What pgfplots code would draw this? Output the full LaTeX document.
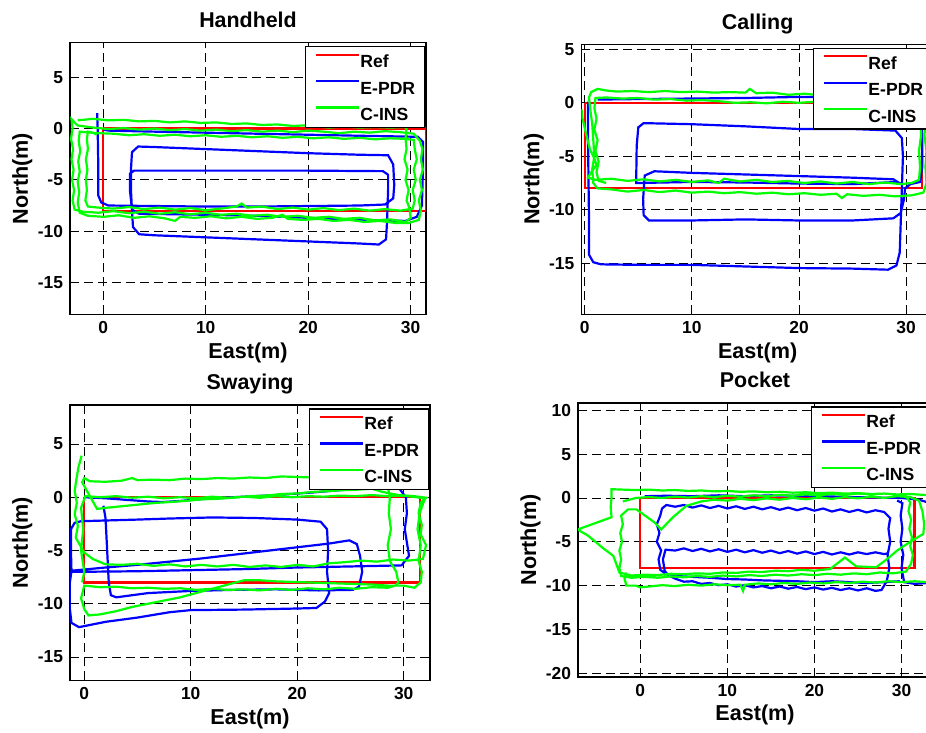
\documentclass[border=0pt]{standalone}
\usepackage{pgfplots}
\pgfplotsset{compat=1.18}
\usepackage{fontspec}
\setmainfont{Liberation Sans}
\definecolor{mred}{RGB}{255,0,0}
\definecolor{mblue}{RGB}{0,0,255}
\definecolor{mgreen}{RGB}{0,255,0}
\pgfplotsset{
  myax/.style={
    scale only axis,
    anchor=south west,
    axis line style={line width=0.65pt},
    grid=major,
    major grid style={black, dash pattern=on 4.5pt off 2.5pt, line width=0.4pt},
    xtick={0,10,20,30},
    tick style={black, line width=0.45pt},
    major tick length=2.2pt,
    ticklabel style={font=\fontsize{8.7}{10}\selectfont\bfseries},
    /pgf/number format/assume math mode=true,
    every axis title/.style={at={(0.5,1)}, anchor=base, yshift=7.5pt, font=\fontsize{10.7}{12}\selectfont\bfseries, inner sep=0pt},
    xlabel={East(m)}, ylabel={North(m)},
    every axis x label/.style={at={([yshift=-22pt]rel axis cs:0.5,0)}, anchor=base, inner sep=0pt, font=\fontsize{10.8}{12}\selectfont\bfseries},
    every axis y label/.style={at={([xshift=-21pt]rel axis cs:0,0.5)}, anchor=base, rotate=90, inner sep=0pt, font=\fontsize{10.8}{12}\selectfont\bfseries},
    legend cell align=left,
    legend style={at={(1,1)}, anchor=north east, xshift=-0.5pt, yshift=-1.7pt, draw=black, line width=0.6pt, fill=white,
      font=\fontsize{8.8}{10}\selectfont\bfseries, inner xsep=4.6pt, inner ysep=3.5pt, row sep=6.2pt,
      nodes={inner sep=0pt, text height=6.5pt, text depth=0pt},
      /tikz/every even column/.append style={column sep=3pt}},
    legend image code/.code={\draw[#1, line width=1.1pt] (0pt,3.2pt) -- (21.7pt,3.2pt);},
    every axis plot/.append style={line width=1.1pt},
  }
}
\begin{document}
\begin{tikzpicture}
\useasboundingbox (0,0) rectangle (463pt,366.5pt);
\clip (0,0) rectangle (463pt,366.5pt);
% ---------------- Handheld
\begin{axis}[myax, at={(35pt,209.35pt)}, width=178pt, height=135.8pt,
  xmin=-3.25, xmax=31.5, ymin=-18.1, ymax=8.37, ytick={-15,-10,-5,0,5}, title={Handheld}]
\addplot[mred] coordinates {(0,0) (0,-8) (31.5,-8) (31.5,0) (0,0)};
\addlegendentry{Ref}
\addplot[mblue] coordinates {(-0.6,1.5) (-0.55,0) (-0.5,-3) (-0.5,-6.5) (-0.2,-7.2) (0.5,-7.5) (5,-7.55) (10,-7.6) (15,-7.6) (20,-7.55) (25,-7.5) (27.5,-7.4) (28.3,-6.8) (28.4,-5.5) (28.3,-3.5) (27.8,-2.6) (25,-2.55) (20,-2.4) (15,-2.2) (10,-2.0) (5,-1.8) (3.4,-1.75) (2.8,-2.3) (2.7,-4) (2.7,-6) (2.8,-8) (2.9,-9.6) (3.5,-10.3) (5,-10.4) (10,-10.6) (15,-10.8) (20,-11.0) (25,-11.2) (26.9,-11.3) (27.6,-10.8) (27.7,-9) (27.8,-6) (27.8,-4.5) (27.3,-4.15) (20,-4.1) (10,-4.1) (3,-4.1) (2.6,-4.4) (2.6,-6) (2.8,-7.9) (3.5,-8.3) (10,-8.4) (15,-8.5) (20,-8.7) (25,-8.9) (29.5,-9.0) (30.6,-8.6) (31.1,-7.5) (31.2,-4) (31.2,-1.3) (30.7,-0.8) (25,-0.7) (20,-0.6) (15,-0.5) (10,-0.4) (5,-0.3) (0.5,-0.2) (0,-0.1)};
\addlegendentry{E-PDR}
\addplot[mgreen] coordinates {(-0.65,-0.6) (-1.0,-0.4) (-1.5,-0.3) (-1.6,-1.0) (-1.5,-2.0) (-1.7,-3.0) (-1.55,-4.0) (-1.7,-5.0) (-1.6,-6.0) (-1.75,-7.0) (-1.5,-7.6) (-0.5,-7.7) (1,-7.8) (2.5,-7.65) (4,-7.85) (5.5,-7.7) (7,-7.9) (8.5,-7.75) (10,-7.95) (11.5,-7.8) (13,-7.6) (13.5,-7.3) (14,-7.7) (15.5,-7.6) (17,-7.85) (18.5,-7.7) (20,-7.9) (21.5,-7.75) (23,-7.95) (24.5,-7.8) (26,-8.0) (27.5,-7.85) (29,-8.0) (30.2,-7.8) (30.4,-7.0) (30.2,-6.0) (30.5,-5.0) (30.3,-4.0) (30.6,-3.0) (30.4,-2.0) (30.3,-1.1) (29.5,-1.0) (28,-0.95) (26.5,-1.05) (25,-0.9) (23.5,-1.0) (22,-0.85) (20.5,-0.95) (19,-0.8) (17.5,-0.9) (16,-0.75) (14.5,-0.85) (13,-0.7) (11.5,-0.8) (10,-0.65) (8.5,-0.75) (7,-0.6) (5.5,-0.7) (4,-0.55) (2.5,-0.65) (1,-0.5) (-0.5,-0.45) (-1.8,-0.35)
(-2.3,-0.3) (-2.4,-1.2) (-2.25,-2.2) (-2.45,-3.2) (-2.3,-4.2) (-2.5,-5.2) (-2.35,-6.2) (-2.5,-7.2) (-2.3,-8.2) (-1.5,-8.5) (0,-8.6) (1.5,-8.45) (3,-8.7) (4.5,-8.55) (6,-8.75) (7,-9.0) (7.5,-8.6) (9,-8.7) (10.5,-8.55) (12,-8.75) (13.5,-8.6) (15,-8.8) (16.5,-8.7) (17.5,-8.4) (18,-8.8) (19.5,-8.9) (21,-8.8) (22.5,-9.0) (24,-8.9) (25.5,-9.1) (27,-9.0) (28.5,-9.2) (29.8,-9.2) (30.8,-8.9) (31.0,-8.0) (30.8,-7.0) (31.1,-6.0) (30.9,-5.0) (31.2,-4.0) (31.0,-3.0) (31.15,-2.0) (30.9,-1.2) (30.3,-0.5) (29,-0.35) (27.5,-0.25) (26,-0.4) (24.5,-0.3) (23,-0.45) (21.5,-0.3) (20,-0.2) (18.5,-0.35) (17,-0.2) (15.5,-0.3) (14,-0.15) (12.5,-0.25) (11,-0.1) (9.5,-0.2) (8,-0.05) (6.5,-0.15) (5,0.0) (3.5,-0.1) (2,0.05) (0.5,-0.05) (-1,0.1) (-2.5,0.3) (-3.1,0.9)
(-3.0,0) (-3.15,-1) (-2.95,-2) (-3.1,-3) (-2.9,-4) (-3.05,-5) (-2.85,-6) (-3.0,-7) (-2.8,-7.9) (-2,-8.1) (-0.5,-8.2) (1,-8.05) (2.5,-8.25) (4,-8.1) (5.5,-8.3) (7,-8.15) (8.5,-8.35) (10,-8.2) (11.5,-8.4) (13,-8.3) (14.5,-8.5) (16,-8.4) (17.5,-8.6) (19,-8.5) (20.5,-8.7) (22,-8.6) (23.5,-8.8) (25,-8.7) (26.5,-8.95) (28,-8.85) (29.5,-9.1) (30.0,-8.7) (29.9,-7.8) (29.6,-7.0) (29.8,-6.0) (29.5,-5.0) (29.7,-4.0) (29.4,-3.0) (29.6,-2.0) (29.5,-1.0) (29.6,0.0) (29.4,0.15) (28,0.1) (26.5,0.15) (25,0.1) (23.5,0.2) (22,0.1) (20.5,0.25) (19.5,0.3) (18.5,0.25) (17,0.4) (15.5,0.35) (14,0.5) (12.5,0.45) (11,0.6) (9.5,0.55) (8,0.7) (6.5,0.6) (5,0.75) (3.5,0.7) (2,0.85) (0.5,0.8) (-1,0.95) (-2.5,0.8)};
\addlegendentry{C-INS}
\end{axis}
% ---------------- Calling
\begin{axis}[myax, at={(290.65pt,209.35pt)}, width=176.35pt, height=135pt,
  xmin=-0.32, xmax=32.6, ymin=-19.77, ymax=5.47, ytick={-15,-10,-5,0,5}, title={Calling}]
\addplot[mred] coordinates {(0,0) (0,-8) (31.5,-8) (31.5,0) (0,0)};
\addlegendentry{Ref}
\addplot[mblue] coordinates {(0.3,0.1) (0.3,-3) (0.35,-7) (0.4,-11) (0.4,-14.2) (0.8,-14.9) (1.5,-15.1) (5,-15.15) (10,-15.15) (15,-15.3) (20,-15.45) (25,-15.5) (28.3,-15.6) (29.1,-15.2) (29.4,-14) (29.5,-11) (29.6,-8) (29.7,-5) (29.6,-3.3) (29.0,-2.6) (25,-2.45) (20,-2.45) (15,-2.2) (10,-2.0) (5.5,-1.9) (5.0,-2.3) (4.85,-4) (4.8,-7.5) (10,-7.4) (15,-7.45) (20,-7.55) (25,-7.6) (29.2,-7.4) (28.8,-7.15) (25,-7.0) (20,-6.85) (15,-6.7) (10,-6.55) (6.5,-6.4) (5.6,-6.8) (5.45,-9) (5.5,-10.5) (6.0,-11.0) (10,-11.0) (15,-10.9) (20,-11.0) (25,-11.0) (28.8,-10.8) (29.5,-10.3) (29.8,-9) (29.9,-8.0) (30.4,-7.6) (31.3,-7.4) (31.5,-6) (31.5,-3) (31.4,-0.5) (31,0.4) (25,0.5) (20,0.55) (15,0.45) (10,0.4) (5,0.35) (1.2,0.3)};
\addlegendentry{E-PDR}
\addplot[mgreen] coordinates {(-0.3,-0.6) (-0.2,-1.5) (0.1,-2.8) (0.3,-3.6) (0.5,-4.4) (0.9,-5.2) (1.1,-5.8) (0.6,-6.5) (0.3,-7.0) (1,-7.2) (2.5,-7.1) (4,-7.3) (5.5,-7.15) (7,-7.35) (8.5,-7.2) (10,-7.4) (11.5,-7.25) (12.5,-7.5) (13,-7.1) (14.5,-7.35) (16,-7.2) (17.5,-7.4) (19,-7.3) (20.5,-7.5) (22,-7.35) (23.5,-7.55) (25,-7.4) (26.5,-7.6) (28,-7.45) (29.5,-7.6) (30.5,-7.5) (31.2,-7.2) (31.3,-6) (31.2,-4.5) (31.4,-3) (31.3,-1.5) (31.4,-0.2) (31,0.6) (29.5,0.7) (28,0.65) (26.5,0.75) (25,0.7) (23.5,0.8) (22,0.7) (20.5,0.85) (19,0.75) (17.5,0.95) (16,0.9) (15.4,1.3) (15,0.95) (13.5,1.0) (12,0.95) (10.5,1.05) (9,1.0) (7.5,1.1) (6,1.0) (4.5,1.1) (3,1.05) (2,1.15) (1.2,1.3) (0.6,1.0) (0.4,0.5) (0.5,-0.5) (0.7,-2) (0.8,-3.5) (0.9,-5) (0.7,-6.2) (0.8,-7.5) (1.2,-8.0)
(2.5,-8.1) (4,-8.3) (5.5,-8.15) (7,-8.35) (8.5,-8.2) (10,-8.4) (11.5,-8.3) (13,-8.45) (14.5,-8.35) (16,-8.5) (17.5,-8.4) (19,-8.55) (20.5,-8.45) (22,-8.6) (23.5,-8.5) (24,-8.9) (24.5,-8.55) (26,-8.7) (27.5,-8.6) (29,-8.75) (30.5,-8.65) (31.6,-8.4) (31.9,-7.5) (31.8,-6) (31.9,-4.5) (31.7,-3) (31.9,-1.5) (31.8,0) (32.5,0.5) (33,0.5) (33,0.1)
(32,0.1) (30.5,0.15) (29,0.1) (27.5,0.2) (26,0.1) (24.5,0.15) (23,0.05) (21.5,0.1) (20,0.0) (18.5,0.1) (17,-0.05) (15.5,0.05) (14,0.0) (12.5,0.15) (11,0.25) (9.5,0.2) (8,0.35) (6.5,0.3) (5,0.45) (3.5,0.4) (2,0.5) (1.0,0.45) (0.9,-0.5) (1.1,-1.5) (0.9,-2.5) (1.2,-3.5) (1.0,-4.5) (1.3,-5.5) (1.1,-6.5) (1.3,-7.3) (2,-7.5)};
\addlegendentry{C-INS}
\end{axis}
% ---------------- Swaying
\begin{axis}[myax, at={(35pt,26.35pt)}, width=180pt, height=137.65pt,
  xmin=-1.34, xmax=32.47, ymin=-17.19, ymax=8.66, ytick={-15,-10,-5,0,5}, title={Swaying}]
\addplot[mred] coordinates {(0,0) (0,-8) (31.5,-8) (31.5,0) (0,0)};
\addlegendentry{Ref}
\addplot[mblue] coordinates {(0,0) (2,-0.1) (4,-0.25) (6,-0.4) (7.4,-0.45) (9,-0.35) (12,-0.1) (15,0.05) (18,0.2) (21.5,0.45) (25,0.75) (28,0.95) (29.6,0.8) (30.2,0) (30.3,-1.5) (30.1,-3) (30.5,-5.5) (29.8,-6.4) (25,-6.5) (20,-6.6) (15,-6.75) (10,-6.85) (5,-6.95) (0,-7.0) (-1.2,-7.0) (-1.25,-5) (-1.25,-3.0) (-0.9,-2.4) (-0.3,-2.25) (1.5,-2.2) (5,-2.1) (8,-2.0) (12,-1.9) (16,-1.95) (20,-2.1) (22.2,-2.3) (22.8,-3.0) (22.9,-5) (22.8,-7) (23.0,-9) (22.6,-9.8) (21.8,-10.4) (20,-10.45) (15,-10.55) (10,-10.6) (8,-10.8) (5,-11.3) (2,-11.7) (0,-12.1) (-0.5,-12.2) (-1.2,-11.8) (-1.35,-10.5) (-1.35,-8) (-1.2,-6.9) (2,-6.6) (5,-6.35) (8,-6.05) (11,-5.75) (14,-5.4) (17,-5.05) (20,-4.7) (23,-4.35) (24.9,-4.05) (25.6,-4.4) (25.9,-5.5) (26.1,-7) (25.8,-8.4) (25.2,-8.7) (22,-8.75) (18,-8.65) (14,-8.7) (10,-8.8) (6,-9.0) (3,-9.4) (2.5,-9.2) (2.3,-8) (2.2,-6) (2.1,-4) (2.0,-2) (1.8,-0.8)};
\addlegendentry{E-PDR}
\addplot[mgreen] coordinates {(-0.25,3.9) (-0.55,2.8) (-0.75,1.6) (-0.9,0.6) (-0.7,-0.5) (-0.9,-1.6) (-0.6,-2.7) (-0.8,-3.8) (-0.4,-4.5) (0,-5.2) (0.8,-5.8) (2,-6.3) (3.5,-6.35) (5,-6.25) (6.5,-6.45) (8,-6.3) (9.5,-6.5) (11,-6.35) (12.5,-6.5) (14,-6.35) (15.5,-6.55) (17,-6.4) (18.5,-6.55) (20,-6.35) (21.5,-6.5) (23,-6.2) (24.5,-6.1) (26,-5.95) (27.5,-6.05) (29,-5.85) (30.5,-5.95) (31.8,-5.8) (32.1,-4.5) (31.6,-3.5) (31.7,-2.6) (31.4,-1.5) (31.6,-0.5) (32.1,-0.05) (31,0.1) (29.5,0.2) (28,0.5) (27,0.8) (25.5,0.7) (24,0.65) (22.5,0.55) (21.5,0.5) (20,0.35) (18.5,0.3) (17,0.15) (15.5,0.1) (14,-0.05) (12.5,-0.15) (11,-0.2) (9.5,-0.35) (8,-0.45) (6.5,-0.55) (5,-0.7) (3.5,-0.85) (2,-1.0) (1.2,-1.1)
(-0.2,1.4) (0,1.8) (0.5,1.5) (2,1.45) (3.5,1.55) (4.5,1.8) (5,1.6) (6.5,1.65) (8,1.6) (9.5,1.75) (11,1.7) (12.5,1.8) (14,1.75) (15.5,1.85) (17,1.8) (18.5,1.95) (20,1.9) (21.5,1.85) (23,1.8) (24.5,1.75) (26,1.7) (27.5,1.5) (28.5,1.0) (28.7,0) (28.6,-1.5) (28.8,-3) (28.5,-4.5) (28.7,-6) (29.3,-7) (29.5,-8.0) (29.2,-8.3) (28.5,-8.5) (27,-8.45) (25.5,-8.6) (24,-8.5) (22.5,-8.65) (21,-8.55) (19.5,-8.7) (18,-8.6) (16.5,-8.75) (15,-8.65) (13.5,-8.7) (12,-8.6) (10.5,-8.7) (9,-8.55) (7.5,-8.6) (6,-8.5) (4.5,-8.55) (3,-8.4) (1.5,-8.45) (0,-8.3) (-0.3,-9.5) (0,-10.5) (0.4,-11.1) (1.5,-11.0) (3,-10.7) (4.5,-10.3) (6,-10.0) (7.5,-9.7) (9,-9.4) (10.5,-9.0) (12,-8.6) (13.5,-8.2) (15,-7.8) (16.5,-7.8) (18,-7.9) (19.5,-7.95) (21,-8.0) (22.5,-8.05) (24,-8.1) (25.5,-8.15) (27,-8.2) (28.5,-8.3) (30,-8.3) (31,-8.5) (31.6,-8.0) (31.7,-7) (31.4,-6.0) (31.6,-4.5) (31.3,-3) (31.5,-1.5) (32.0,-0.1)
(31.2,0.0) (30,0.15) (28.5,0.1) (27,0.2) (25.5,0.1) (24,0.15) (22.5,0.05) (21,0.1) (19.5,0.0) (18,0.1) (16.5,-0.05) (15,0.05) (13.5,-0.05) (12,0.05) (10.5,-0.1) (9,0.0) (7.5,-0.1) (6,0.05) (4.5,-0.05) (3,0.1) (1.5,0.0) (0.1,0.1) (-0.3,-1) (-0.1,-3) (-0.3,-5) (0,-7) (-0.2,-8)};
\addlegendentry{C-INS}
\end{axis}
% ---------------- Pocket
\begin{axis}[myax, at={(289pt,28pt)}, width=177pt, height=137pt,
  xmin=-7.15, xmax=33.5, ymin=-20.42, ymax=10.83, ytick={-20,-15,-10,-5,0,5,10}, title={Pocket}]
\addplot[mred] coordinates {(0,0) (0,-8) (31.5,-8) (31.5,0) (0,0)};
\addlegendentry{Ref}
\addplot[mblue] coordinates {(0.5,0.2) (3,0.25) (6,0.2) (9,0.3) (12,0.2) (15,0.3) (18,0.25) (21,0.2) (24,0.1) (27,0.05) (30,0.0) (32,-0.2) (33,-0.5) (34,-1.0) (34,-9.5) (33,-9.7) (31.5,-9.8) (30.3,-9.6) (30.0,-8) (30.2,-6.5) (29.9,-5) (30.1,-3.5) (29.9,-2) (30.1,-0.6) (29.5,-0.3)};
\addlegendentry{E-PDR}
\addplot[mblue, forget plot] coordinates {(29.8,-9.5) (28,-9.6) (26,-9.7) (24,-9.6) (22,-9.5) (20,-9.6) (18,-9.5) (16,-9.45) (14,-9.4) (12,-9.3) (10,-9.25) (8,-9.1) (6,-9.0) (4,-8.9) (3,-8.7) (2.3,-8.2) (2.1,-7) (2.4,-6) (1.9,-5) (2.2,-4) (1.9,-3) (2.3,-2) (2.5,-1.2) (3,-0.8) (4,-1.0) (5,-0.8) (6,-1.1) (7,-0.85) (8,-1.15) (9,-0.9) (10,-1.2) (11,-0.95) (12,-1.25) (13,-1.0) (14,-1.3) (15,-1.05) (16,-1.35) (17,-1.1) (18,-1.4) (19,-1.15) (20,-1.45) (21,-1.2) (22,-1.55) (23,-1.3) (24,-1.6) (25,-1.35) (26,-1.65) (27,-1.4) (28,-1.6) (28.7,-2.3) (28.5,-3.5) (28.7,-5) (28.4,-6.5) (28.6,-8) (28.3,-9.5) (27.7,-10.5) (27,-10.6) (26,-10.3) (25,-10.55) (24,-10.3) (23,-10.5) (22,-10.25) (21,-10.45) (20,-10.2) (19,-10.4) (18,-10.15) (17,-10.35) (16,-10.1) (15,-10.3) (14,-10.05) (13,-10.2) (12,-9.95) (11,-10.1) (10,-9.85) (9,-9.95) (8,-9.7) (7,-9.8) (6,-9.5) (5,-9.55) (4,-9.2) (3.2,-8.8) (2.8,-8.3) (2.6,-7) (2.9,-5.9) (4,-6.0) (5,-5.75) (6,-6.05) (7,-5.8) (8,-6.1) (9,-5.85) (10,-6.15) (11,-5.9) (12,-6.2) (13,-5.95) (14,-6.25) (15,-6.0) (16,-6.3) (17,-6.05) (18,-6.35) (19,-6.1) (20,-6.4) (21,-6.15) (22,-6.45) (23,-6.2) (24,-6.45) (25,-6.2) (26,-6.4) (27,-6.2) (28,-6.4) (28.5,-6.3)};
\addplot[mgreen] coordinates {(-2.0,-0.4) (-0.5,0.0) (1,0.1) (2.5,0.0) (4,0.15) (5.5,0.05) (7,0.2) (8.5,0.1) (10,0.25) (11.5,0.15) (13,0.3) (14.5,0.2) (16,0.35) (17.5,0.25) (19,0.4) (20.5,0.3) (22,0.45) (23.5,0.35) (25,0.5) (26.5,0.4) (28,0.5) (29.5,0.4) (30.5,0.2) (31,-0.5) (30.8,-1.5) (31.1,-2.5) (30.9,-3.5) (31.2,-4.5) (31.0,-5.5) (31.3,-6.5) (31.1,-7.5) (30.5,-8.4) (29,-8.6) (27.5,-8.5) (26,-8.7) (24.5,-8.6) (23,-8.75) (21.5,-8.65) (20,-8.8) (18.5,-8.7) (17,-8.85) (15.5,-8.75) (14,-8.9) (12.5,-8.8) (11,-8.95) (9.5,-8.85) (8,-9.0) (6.5,-8.9) (5,-9.05) (3.5,-8.95) (2,-9.1) (0.5,-9.0) (-1,-9.1) (-2.2,-8.9) (-2.4,-8.0) (-2.2,-7.0) (-2.4,-6.0) (-2.1,-5.0) (-2.3,-4.0) (-2.0,-3.0) (-2.2,-2.0) (-1.4,-1.3) (-0.45,-1.3) (1.65,-2.8) (2.4,-3.6) (3.75,-2.2) (5.3,-0.9) (7,-0.4) (8.5,-0.2) (10,-0.3) (11.5,-0.1) (13,-0.25) (14.5,-0.05) (16,-0.2) (17.5,0.0) (19,-0.15) (20.5,0.05) (22,-0.1) (23.5,0.1) (25,-0.05) (26.5,0.15) (28,0.0) (29.5,0.2) (31,0.1) (32,-0.3) (32.4,-1.5) (32.6,-3) (32.5,-4.1) (31,-5) (29.5,-6) (28.3,-7) (27.1,-7.9) (24.8,-7.8) (23.5,-6.8) (21.8,-8.1) (20,-8.3) (18.5,-8.2) (17,-8.35) (15.5,-8.3) (14,-8.45) (12.5,-8.4) (11,-8.55) (9.5,-8.5) (8,-8.65) (6.5,-8.6) (5,-8.7) (3.5,-8.65) (2,-8.8) (0.5,-8.75) (-1,-8.85) (-2.4,-8.5) (-2.8,-7.4) (-3.1,-6.6) (-4.3,-5.7) (-6,-4.3) (-7.2,-3.6) (-3.3,-2.2) (-3.4,-1) (-3.3,0) (-3.3,1.0) (-2,0.95) (-0.5,0.9) (1,0.95) (2.5,0.85) (4,0.9) (5.5,0.8) (7,0.85) (8.5,0.75) (10,0.8) (11.5,0.7) (13,0.75) (14.5,0.65) (16,0.7) (17.5,0.6) (19,0.65) (20.5,0.55) (22,0.6) (23.5,0.5) (25,0.55) (26.5,0.45) (28,0.5) (29.5,0.4) (31,0.45) (32.5,0.35) (34,0.3) (34,-9.6) (33,-9.6) (31.5,-9.5) (30,-9.6) (28.5,-9.5) (27,-9.65) (25.5,-9.55) (24,-9.7) (22.5,-9.6) (21,-9.75) (19.5,-9.65) (18,-9.8) (16.5,-9.7) (15,-9.85) (13.5,-9.75) (12,-9.9) (11.8,-10.6) (11.5,-9.9) (10,-9.95) (8.5,-9.85) (7,-10.0) (5.5,-9.9) (4,-10.05) (2.5,-9.95) (1,-10.1) (0,-10.2) (-0.5,-10.0) (-1.6,-10.0) (-1.8,-9.2) (-1.6,-8.5)};
\addlegendentry{C-INS}
\end{axis}
\end{tikzpicture}
\end{document}
